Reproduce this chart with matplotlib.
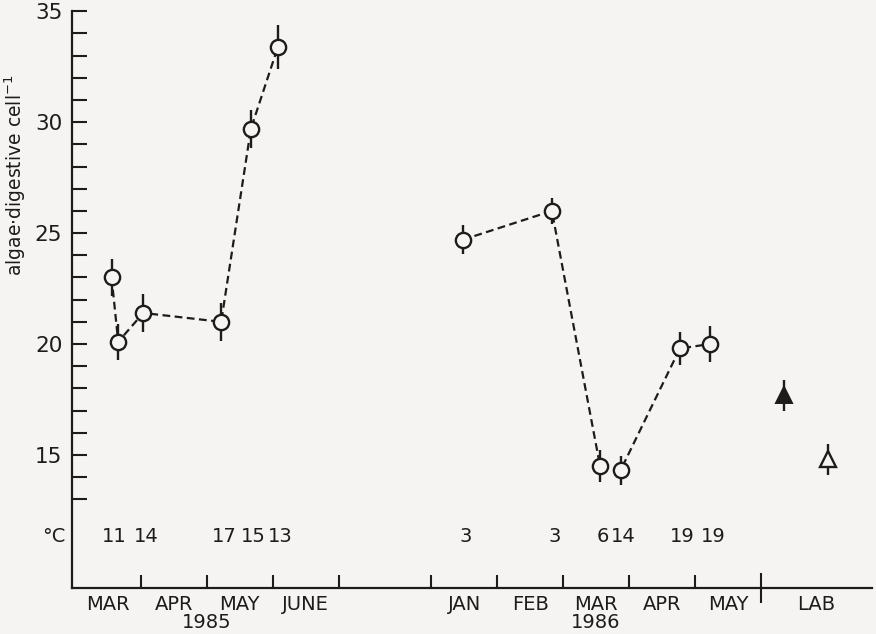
import numpy as np
import matplotlib
matplotlib.use("Agg")
import matplotlib.pyplot as plt

# x positions are in months: 1985 counted from 1 March, 1986 from 1 January
x_1985 = [0.56, 0.66, 1.04, 2.22, 2.67, 3.08]
y_1985 = [23.0, 20.1, 21.4, 21.0, 29.7, 33.4]
err_1985 = [0.85, 0.8, 0.85, 0.85, 0.85, 1.0]
temp_1985 = ['11', '', '14', '17', '15', '13']

x_1986 = [0.48, 1.83, 2.56, 2.87, 3.77, 4.23]
y_1986 = [24.7, 26.0, 14.5, 14.3, 19.8, 20.0]
err_1986 = [0.65, 0.6, 0.7, 0.65, 0.75, 0.8]
temp_1986 = ['3', '3', '6', '14', '19', '19']

# lab animals, months past the LAB separator
x_lab = [0.34, 1.02]
y_lab = [17.7, 14.8]
err_lab = [0.7, 0.7]

months_1985 = ['MAR', 'APR', 'MAY', 'JUNE']
months_1986 = ['JAN', 'FEB', 'MAR', 'APR', 'MAY']

# where each block starts on the shared axis
start_1985 = 0.0
start_1986 = 5.4
start_lab = 10.4
x_end = 12.08

ink = '#1c1c1c'
bg = '#f6f4f2'

fig = plt.figure(figsize=(8.76, 6.34), dpi=100, facecolor=bg)
ax = fig.add_axes([72 / 876, 1 - 588 / 634, 800 / 876, (588 - 11.3) / 634])
ax.set_facecolor(bg)


def series(xs, ys, es, offset):
    xx = np.array(xs) + offset
    ax.errorbar(xx, ys, yerr=es, fmt='none', ecolor=ink, elinewidth=1.7, capsize=0, zorder=2)
    ax.plot(xx, ys, color=ink, lw=1.6, dashes=(3.5, 2.0), zorder=1)
    ax.plot(xx, ys, 'o', ms=11, mfc=bg, mec=ink, mew=1.7, zorder=3)
    return xx


xx85 = series(x_1985, y_1985, err_1985, start_1985)
xx86 = series(x_1986, y_1986, err_1986, start_1986)

# lab points
xl = np.array(x_lab) + start_lab
ax.errorbar(xl, y_lab, yerr=err_lab, fmt='none', ecolor=ink, elinewidth=1.7, capsize=0, zorder=2)
ax.plot(xl[0], y_lab[0], '^', ms=11, mfc=ink, mec=ink, mew=1.4, zorder=3)
ax.plot(xl[1], y_lab[1], '^', ms=11, mfc=bg, mec=ink, mew=1.7, zorder=3)

# temperature row
for xs, ts in [(xx85, temp_1985), (xx86, temp_1986)]:
    for xv, t in zip(xs, ts):
        if t:
            ax.annotate(t, xy=(xv, 11.3), xytext=(2, 0), textcoords='offset points',
                        ha='center', va='center', fontsize=14, color=ink)
ax.annotate('°C', xy=(0, 11.3), xycoords=('axes fraction', 'data'), xytext=(-5, 0),
            textcoords='offset points', ha='right', va='center', fontsize=14, color=ink)

ax.set_xlim(-0.04, x_end)
ax.set_ylim(9, 35)

for s in ['top', 'right']:
    ax.spines[s].set_visible(False)
for s in ['left', 'bottom']:
    ax.spines[s].set_linewidth(1.6)
    ax.spines[s].set_color(ink)

ax.set_yticks([15, 20, 25, 30, 35])
ax.set_yticks(np.arange(13, 35), minor=True)
ax.tick_params(axis='y', which='both', direction='in', length=11, width=1.5, color=ink)
ax.tick_params(axis='y', which='major', labelsize=15.5, labelcolor=ink, pad=7)

xt = [start_1985 + i for i in range(1, len(months_1985) + 1)]
xt += [start_1986 + i for i in range(len(months_1986))]
ax.set_xticks(xt)
ax.set_xticklabels([])
ax.set_xticks([start_lab], minor=True)
ax.tick_params(axis='x', which='major', direction='in', length=9.5, width=1.5, color=ink)
ax.tick_params(axis='x', which='minor', direction='inout', length=21, width=1.5, color=ink)


def under(x, txt, dy):
    ax.annotate(txt, xy=(x, 0), xycoords=('data', 'axes fraction'), xytext=(0, dy),
                textcoords='offset points', ha='center', va='center', fontsize=14, color=ink)


for i, m in enumerate(months_1985):
    under(start_1985 + i + 0.5, m, -12)
for i, m in enumerate(months_1986):
    under(start_1986 + i + 0.5, m, -12)
under((start_lab + x_end) / 2, 'LAB', -12)
under(start_1985 + 2.0, '1985', -24.5)
under(start_1986 + 2.5, '1986', -24.5)

fig.text(15 / 876, 1 - 175 / 634, r'algae$\cdot$digestive cell$^{-1}$', rotation=90,
         ha='center', va='center', fontsize=13.5, color=ink)

fig.savefig('out.png', dpi=100, facecolor=bg)
